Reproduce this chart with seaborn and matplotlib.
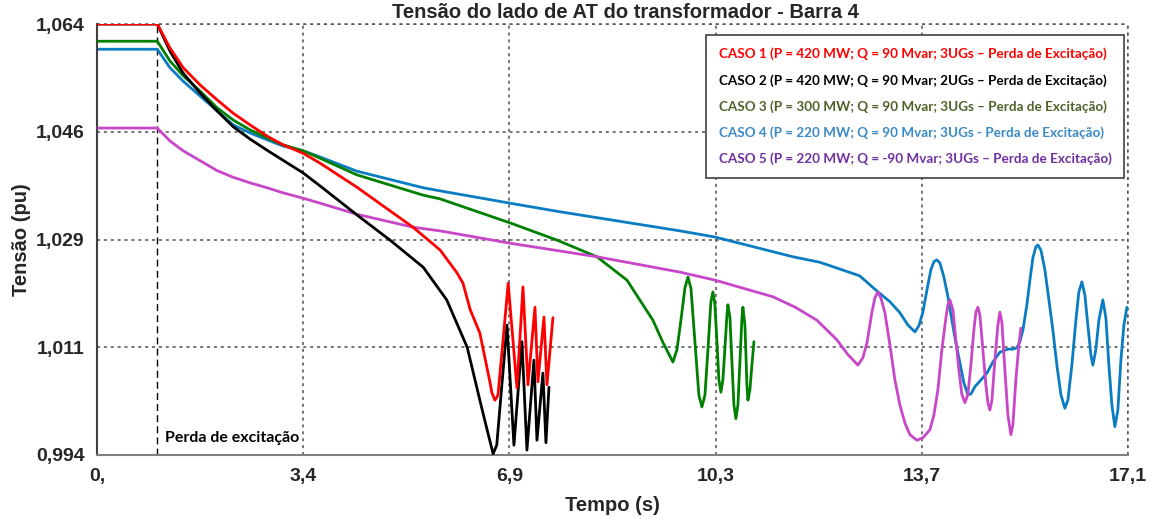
import matplotlib
matplotlib.use("Agg")
import matplotlib.pyplot as plt
import pandas as pd
import seaborn as sns

# ---- data -------------------------------------------------------------
caso1_t = [0.0, 1.0, 1.21, 1.43, 1.71, 1.99, 2.26, 2.54, 2.82, 3.08, 3.42, 3.70,
           4.31, 5.24, 5.69, 5.97, 6.07, 6.19, 6.35, 6.52, 6.55, 6.60, 6.65,
           6.72, 6.82, 6.965, 7.065, 7.148, 7.264, 7.313, 7.413, 7.463, 7.562]
caso1_v = [1.064, 1.064, 1.0601, 1.0569, 1.0541, 1.0517, 1.0495, 1.0476, 1.0458,
           1.0444, 1.0430, 1.0414, 1.0375, 1.0310, 1.0273, 1.0236, 1.0219,
           1.0176, 1.0138, 1.0057, 1.0041, 1.0029, 1.0037, 1.0111, 1.0219,
           1.0049, 1.0213, 1.0054, 1.0180, 1.0059, 1.0164, 1.0054, 1.0163]

caso2_t = [0.0, 1.0, 1.21, 1.43, 1.71, 1.99, 2.26, 2.54, 2.82, 3.08, 3.42, 3.70,
           4.31, 4.86, 5.41, 5.80, 6.14, 6.35, 6.47, 6.57, 6.63, 6.80, 6.915,
           7.048, 7.131, 7.247, 7.297, 7.396, 7.446, 7.496]
caso2_v = [1.064, 1.064, 1.0596, 1.0560, 1.0528, 1.0499, 1.0473, 1.0453, 1.0435,
           1.0419, 1.0398, 1.0377, 1.0330, 1.0289, 1.0245, 1.0192, 1.0115,
           1.0029, 0.9981, 0.9942, 0.9956, 1.0151, 0.9956, 1.0124, 0.9948,
           1.0094, 0.9964, 1.0073, 0.9960, 1.0050]

caso3_t = [0.0, 1.0, 1.21, 1.43, 1.71, 1.99, 2.26, 2.54, 2.82, 3.08, 3.42, 3.70,
           4.31, 5.41, 5.69, 6.85, 7.63, 8.29, 8.79, 9.22, 9.39,
           9.552, 9.619, 9.685, 9.751, 9.801, 9.851, 9.917, 9.983, 10.033,
           10.083, 10.133, 10.182, 10.216, 10.249, 10.282, 10.315, 10.348,
           10.381, 10.415, 10.448, 10.464, 10.498, 10.531, 10.564, 10.597,
           10.630, 10.663, 10.697, 10.713, 10.746, 10.763, 10.779, 10.796,
           10.829, 10.862, 10.896]
caso3_v = [1.0612, 1.0612, 1.0580, 1.0556, 1.0531, 1.0504, 1.0484, 1.0468,
           1.0455, 1.0444, 1.0434, 1.0422, 1.0395, 1.0362, 1.0356, 1.0317,
           1.0289, 1.0262, 1.0224, 1.0159, 1.0122,
           1.0091, 1.0111, 1.0159, 1.0211, 1.0229, 1.0211, 1.0124, 1.0037,
           1.0018, 1.0037, 1.0111, 1.0189, 1.0205, 1.0184, 1.0124, 1.0062,
           1.0042, 1.0062, 1.0114, 1.0167, 1.0184, 1.0163, 1.0091, 1.0021,
           0.9999, 1.0021, 1.0091, 1.0163, 1.0180, 1.0151, 1.0104, 1.0054,
           1.0029, 1.0046, 1.0086, 1.0124]

caso4_t = [0.0, 1.0, 1.21, 1.43, 1.71, 1.99, 2.26, 2.54, 2.82, 3.08, 3.42, 3.70,
           4.31, 5.41, 5.69, 6.85, 7.68, 9.67, 10.25, 11.54, 11.99, 12.65,
           12.952, 13.151, 13.317, 13.450, 13.566, 13.632, 13.698, 13.765,
           13.831, 13.881, 13.930, 13.980, 14.047, 14.113, 14.179, 14.245,
           14.312, 14.378, 14.444, 14.494, 14.561, 14.644, 14.760, 14.859,
           14.975, 15.108, 15.191, 15.257, 15.307, 15.357, 15.423, 15.473,
           15.522, 15.572, 15.605, 15.655, 15.721, 15.788, 15.854, 15.920,
           15.987, 16.053, 16.103, 16.169, 16.236, 16.285, 16.335, 16.385,
           16.434, 16.484, 16.517, 16.567, 16.617, 16.683, 16.733, 16.783,
           16.833, 16.882, 16.932, 16.982, 17.032, 17.082]
caso4_v = [1.0599, 1.0599, 1.0569, 1.0547, 1.0523, 1.0499, 1.0476, 1.0463,
           1.0452, 1.0442, 1.0434, 1.0424, 1.0401, 1.0374, 1.0369, 1.0349,
           1.0335, 1.0304, 1.0294, 1.0262, 1.0253, 1.0231,
           1.0205, 1.0189, 1.0171, 1.0151, 1.0140, 1.0150, 1.0172, 1.0208,
           1.0241, 1.0254, 1.0257, 1.0252, 1.0229, 1.0197, 1.0159, 1.0122,
           1.0090, 1.0057, 1.0038, 1.0039, 1.0051, 1.0060, 1.0073, 1.0091,
           1.0107, 1.0112, 1.0112, 1.0114, 1.0124, 1.0143, 1.0184, 1.0224,
           1.0260, 1.0278, 1.0281, 1.0273, 1.0241, 1.0192, 1.0143, 1.0086,
           1.0038, 1.0016, 1.0029, 1.0086, 1.0159, 1.0205, 1.0221, 1.0200,
           1.0151, 1.0103, 1.0086, 1.0111, 1.0159, 1.0192, 1.0163, 1.0086,
           1.0021, 0.9986, 1.0013, 1.0094, 1.0151, 1.0180]

caso5_t = [0.0, 1.0, 1.21, 1.43, 1.71, 1.99, 2.26, 2.54, 2.82, 3.08, 3.42, 3.70,
           4.31, 5.24, 5.69, 6.85, 8.29, 9.67, 10.25, 11.21, 11.58, 11.94,
           12.272, 12.455, 12.620, 12.703, 12.770, 12.853, 12.902, 12.952,
           13.002, 13.068, 13.151, 13.234, 13.317, 13.400, 13.483, 13.599,
           13.698, 13.814, 13.881, 13.947, 14.013, 14.080, 14.113, 14.146,
           14.196, 14.245, 14.295, 14.345, 14.395, 14.444, 14.494, 14.544,
           14.577, 14.610, 14.644, 14.693, 14.743, 14.776, 14.809, 14.843,
           14.892, 14.942, 14.975, 15.008, 15.058, 15.108, 15.158, 15.191,
           15.240, 15.290, 15.323]
caso5_v = [1.0471, 1.0471, 1.0450, 1.0434, 1.0418, 1.0402, 1.0391, 1.0382,
           1.0374, 1.0366, 1.0357, 1.0349, 1.0331, 1.0310, 1.0304, 1.0284,
           1.0262, 1.0237, 1.0224, 1.0197, 1.0180, 1.0159,
           1.0127, 1.0103, 1.0086, 1.0098, 1.0122, 1.0172, 1.0195, 1.0205,
           1.0195, 1.0171, 1.0119, 1.0062, 1.0021, 0.9992, 0.9973, 0.9964,
           0.9968, 0.9981, 1.0005, 1.0046, 1.0111, 1.0163, 1.0184, 1.0192,
           1.0176, 1.0127, 1.0078, 1.0038, 1.0025, 1.0038, 1.0086, 1.0143,
           1.0172, 1.0180, 1.0167, 1.0111, 1.0054, 1.0025, 1.0013, 1.0029,
           1.0094, 1.0151, 1.0172, 1.0156, 1.0078, 1.0005, 0.9973, 0.9989,
           1.0062, 1.0119, 1.0146]

casos = [
    "CASO 1 (P = 420 MW; Q = 90 Mvar; 3UGs \u2013 Perda de Excitação)",
    "CASO 2 (P = 420 MW; Q = 90 Mvar; 2UGs \u2013 Perda de Excitação)",
    "CASO 3 (P = 300 MW; Q = 90 Mvar; 3UGs \u2013 Perda de Excitação)",
    "CASO 4 (P = 220 MW; Q = 90 Mvar; 3UGs - Perda de Excitação)",
    "CASO 5 (P = 220 MW; Q = -90 Mvar; 3UGs \u2013 Perda de Excitação)",
]

x_ticks = [0.0, 3.42, 6.84, 10.26, 13.68, 17.1]
x_tick_labels = ["0,", "3,4", "6,9", "10,3", "13,7", "17,1"]
y_ticks = [0.994, 1.0115, 1.029, 1.0465, 1.064]
y_tick_labels = ["0,994", "1,011", "1,029", "1,046", "1,064"]

t_evento = 1.0

# ---- styling ----------------------------------------------------------
line_colors = ["#FF0000", "#000000", "#008000", "#0A7DC2", "#C846C8"]
text_colors = ["#FF0000", "#000000", "#4F6228", "#3A8AC6", "#7030A0"]

sns.set_style("white")
plt.rcParams["font.family"] = ["Liberation Sans", "DejaVu Sans"]

series_t = [caso1_t, caso2_t, caso3_t, caso4_t, caso5_t]
series_v = [caso1_v, caso2_v, caso3_v, caso4_v, caso5_v]
df = pd.concat(
    [pd.DataFrame({"Tempo": t, "Tensao": v, "Caso": c})
     for t, v, c in zip(series_t, series_v, casos)],
    ignore_index=True,
)

fig = plt.figure(figsize=(11.52, 5.22), dpi=100)
ax = fig.add_axes([97 / 1152, 1 - 455 / 522, 1031 / 1152, 431 / 522])

sns.lineplot(data=df, x="Tempo", y="Tensao", hue="Caso", hue_order=casos,
             palette=line_colors, estimator=None, sort=False, linewidth=2.0,
             ax=ax)

# drawing order: red on top
for line, z in zip(ax.get_lines()[:5], [6, 4, 3, 2, 3.5]):
    line.set_zorder(z)
    line.set_solid_joinstyle("round")

ax.set_xlim(0, 17.1)
ax.set_ylim(0.994, 1.064)
ax.set_xticks(x_ticks)
ax.set_xticklabels(x_tick_labels, fontsize=14, fontweight="bold")
ax.set_yticks(y_ticks)
ax.set_yticklabels(y_tick_labels, fontsize=14, fontweight="bold")
ax.tick_params(axis="both", direction="out", length=5, width=1.2,
               color="#808080", pad=4)

ax.grid(True, linestyle=(0, (2, 2.5)), color="#505050", linewidth=1.1)
ax.set_axisbelow(True)
for s in ["top", "right"]:
    ax.spines[s].set_visible(False)
ax.spines["left"].set_color("#404040")
ax.spines["left"].set_linewidth(1.5)
ax.spines["bottom"].set_color("#808080")
ax.spines["bottom"].set_linewidth(1.5)
# dotted edges at top and right
ax.axhline(1.064, linestyle=(0, (2, 2.5)), color="#505050", linewidth=1.1,
           zorder=0.5, clip_on=False)
ax.axvline(17.1, linestyle=(0, (2, 2.5)), color="#505050", linewidth=1.1,
           zorder=0.5, clip_on=False)

# excitation loss instant
ax.axvline(t_evento, color="black", linestyle=(0, (5, 3)), linewidth=1.0,
           zorder=1)
ax.text(t_evento + 0.13, 0.9968, "Perda de excitação", fontsize=11.5,
        fontweight="bold", family=["Lato", "DejaVu Sans"], ha="left",
        va="center", color="black")

ax.set_xlabel("Tempo (s)", fontsize=14.5, fontweight="bold", labelpad=8)
ax.set_ylabel("Tensão (pu)", fontsize=14.5, fontweight="bold", labelpad=3)

fig.text(625 / 1152, 1 - 12.5 / 522,
         "Tensão do lado de AT do transformador - Barra 4",
         fontsize=14.5, fontweight="bold", ha="center", va="center")

# text-only legend
handles, labels = ax.get_legend_handles_labels()
leg = ax.legend(handles, labels, loc="upper left",
                bbox_to_anchor=(0.5907, 0.9745), frameon=True,
                fancybox=False, edgecolor="#404040", framealpha=1,
                handlelength=0, handletextpad=0, labelspacing=1.0,
                borderpad=0.95, borderaxespad=0,
                prop={"family": ["Lato", "DejaVu Sans"], "weight": "bold",
                      "size": 9.7})
leg.get_frame().set_linewidth(1.2)
for h in leg.legend_handles:
    h.set_visible(False)
for txt, c in zip(leg.get_texts(), text_colors):
    txt.set_color(c)
leg.set_zorder(10)

fig.savefig("out.png", dpi=100)
